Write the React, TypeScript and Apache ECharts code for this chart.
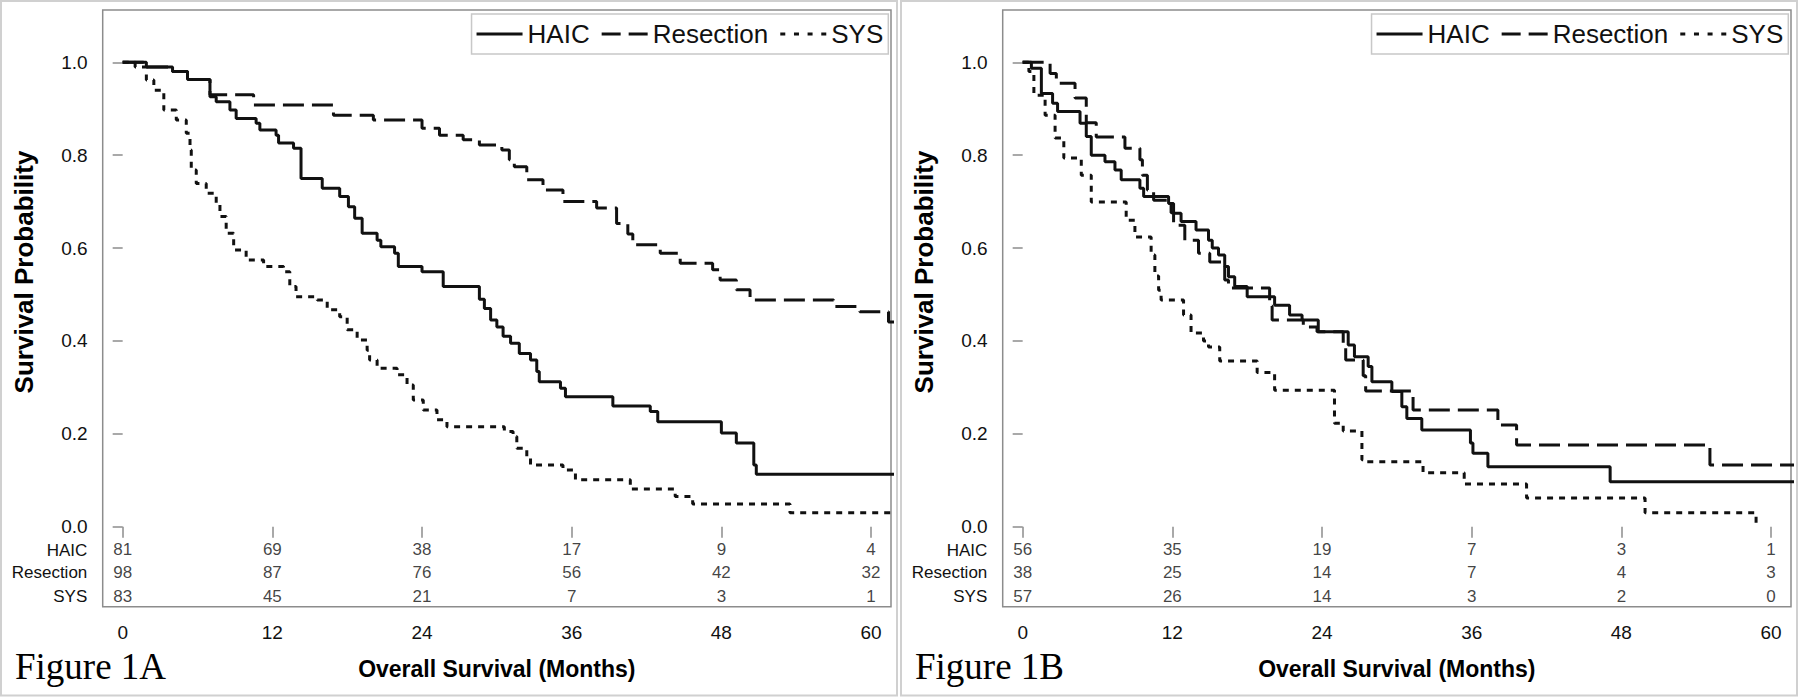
import React, { useEffect, useRef } from "react";
import * as echarts from "echarts";

// ---------- data (months, survival probability) ----------
const haicA: number[][] = [
  [0, 1.0], [1.9, 0.99], [4.0, 0.98], [5.2, 0.963], [7.0, 0.926], [7.5, 0.915], [8.6, 0.897],
  [9.1, 0.879], [10.7, 0.869], [11.0, 0.854], [12.3, 0.843], [12.5, 0.826], [13.7, 0.815],
  [14.3, 0.75], [16.0, 0.729], [17.4, 0.711], [18.1, 0.689], [18.6, 0.664], [19.2, 0.632],
  [20.4, 0.617], [20.7, 0.603], [21.8, 0.589], [22.1, 0.56], [24.0, 0.549], [25.7, 0.517],
  [28.6, 0.49], [29.0, 0.47], [29.5, 0.445], [30.0, 0.43], [30.5, 0.41], [31.1, 0.395],
  [31.8, 0.373], [32.7, 0.359], [33.2, 0.334], [33.4, 0.312], [35.1, 0.298], [35.5, 0.28],
  [39.3, 0.26], [42.3, 0.248], [42.9, 0.226], [48.0, 0.202], [49.2, 0.18], [50.6, 0.133],
  [50.8, 0.113], [62, 0.113],
];
const resectionA: number[][] = [
  [0, 1.0], [2.0, 0.99], [4.0, 0.98], [5.2, 0.963], [7.0, 0.93], [10.5, 0.908], [16.9, 0.886],
  [20.1, 0.876], [24.0, 0.858], [25.4, 0.843], [27.3, 0.833], [28.6, 0.822], [30.4, 0.811],
  [31.0, 0.79], [31.4, 0.775], [32.4, 0.747], [33.7, 0.725], [35.3, 0.7], [38.0, 0.686],
  [39.6, 0.653], [40.5, 0.63], [40.9, 0.607], [43.1, 0.589], [44.7, 0.567], [47.3, 0.553],
  [47.9, 0.531], [49.2, 0.51], [50.3, 0.488], [57.0, 0.474], [59.1, 0.463], [61.4, 0.441],
  [62, 0.441],
];
const sysA: number[][] = [
  [0, 1.0], [1.0, 0.99], [1.9, 0.962], [2.5, 0.94], [3.3, 0.897], [4.3, 0.876], [5.1, 0.847],
  [5.4, 0.811], [5.5, 0.768], [5.9, 0.739], [6.7, 0.718], [7.5, 0.696], [7.8, 0.668],
  [8.3, 0.632], [8.9, 0.596], [9.9, 0.574], [11.3, 0.56], [12.9, 0.549], [13.4, 0.517],
  [13.9, 0.495], [15.6, 0.488], [16.4, 0.467], [17.4, 0.452], [18.0, 0.424], [18.8, 0.402],
  [19.6, 0.38], [19.8, 0.359], [20.4, 0.341], [22.0, 0.327], [22.8, 0.305], [23.3, 0.273],
  [24.1, 0.251], [25.2, 0.23], [26.0, 0.215], [30.6, 0.205], [31.3, 0.194], [31.6, 0.169],
  [32.4, 0.151], [32.7, 0.133], [35.3, 0.122], [36.3, 0.101], [40.7, 0.081], [44.3, 0.065],
  [45.7, 0.049], [53.5, 0.03], [62, 0.03],
];
const haicB: number[][] = [
  [0, 1.0], [0.7, 0.987], [1.5, 0.933], [2.4, 0.912], [2.8, 0.894], [4.6, 0.869], [5.1, 0.84],
  [5.5, 0.8], [6.6, 0.786], [7.4, 0.768], [7.9, 0.747], [9.4, 0.729], [9.7, 0.711],
  [11.7, 0.696], [12.1, 0.675], [12.7, 0.657], [13.9, 0.639], [14.9, 0.617], [15.2, 0.6],
  [15.7, 0.585], [16.2, 0.56], [16.5, 0.538], [17.0, 0.517], [18.0, 0.495], [20.2, 0.477],
  [21.4, 0.456], [22.4, 0.445], [23.7, 0.42], [26.1, 0.391], [26.6, 0.366], [27.7, 0.345],
  [28.0, 0.312], [29.6, 0.291], [30.4, 0.258], [30.8, 0.233], [32.0, 0.208], [35.9, 0.18],
  [36.1, 0.158], [37.3, 0.129], [47.1, 0.097], [62, 0.097],
];
const resectionB: number[][] = [
  [0, 1.0], [2.2, 0.976], [2.7, 0.955], [4.2, 0.923], [5.1, 0.87], [5.9, 0.839], [8.2, 0.815],
  [9.4, 0.79], [9.6, 0.757], [10.0, 0.725], [10.5, 0.703], [11.9, 0.676], [12.1, 0.649],
  [13.0, 0.617], [14.1, 0.589], [15.0, 0.57], [16.2, 0.531], [16.5, 0.514], [19.8, 0.475],
  [20.0, 0.445], [22.5, 0.43], [23.6, 0.42], [25.7, 0.385], [25.9, 0.359], [27.3, 0.325],
  [27.5, 0.292], [31.3, 0.251], [38.1, 0.219], [39.6, 0.176], [55.1, 0.133], [62, 0.133],
];
const sysB: number[][] = [
  [0, 1.0], [0.5, 0.98], [0.9, 0.929], [1.8, 0.886], [2.6, 0.837], [3.3, 0.794], [4.7, 0.757],
  [5.5, 0.699], [8.3, 0.66], [9.0, 0.624], [10.3, 0.585], [10.6, 0.54], [10.9, 0.509],
  [11.1, 0.488], [12.9, 0.456], [13.5, 0.417], [14.5, 0.4], [14.9, 0.387], [15.8, 0.357],
  [18.8, 0.332], [20.2, 0.294], [25.0, 0.223], [25.7, 0.206], [27.2, 0.144], [27.6, 0.14],
  [32.1, 0.116], [35.4, 0.092], [40.4, 0.062], [49.9, 0.03], [58.8, 0.0],
];

const xTicks = [0, 12, 24, 36, 48, 60];
const yTicks = [0, 0.2, 0.4, 0.6, 0.8, 1.0];
const groups = ["HAIC", "Resection", "SYS"];

const riskHaicA = [81, 69, 38, 17, 9, 4];
const riskResectionA = [98, 87, 76, 56, 42, 32];
const riskSysA = [83, 45, 21, 7, 3, 1];
const riskHaicB = [56, 35, 19, 7, 3, 1];
const riskResectionB = [38, 25, 14, 7, 4, 3];
const riskSysB = [57, 26, 14, 3, 2, 0];

const panelTitles = ["Figure 1A", "Figure 1B"];

// ---------- styling ----------
const FONT = "'Liberation Sans', Arial, sans-serif";
const FRAME = "#8c8c8c";
const INK = "#111";
const lineTypes: any[] = ["solid", [21, 8], [6, 6]];
const legendIcons = [
  "path://M0 0H48V3H0Z",
  "path://M0 0H19V3H0Z M27 0H46V3H27Z",
  "path://M0 0H5V3H0Z M13.7 0H18.7V3H13.7Z M27.3 0H32.3V3H27.3Z M41 0H46V3H41Z",
];
const ROW_Y = [-0.0502, -0.0991, -0.1494];

export default function App() {
  const ref = useRef<HTMLDivElement>(null);

  useEffect(() => {
    document.body.style.margin = "0";
    const chart = echarts.init(ref.current!, null, { renderer: "svg" });

    const curves = [
      [haicA, resectionA, sysA],
      [haicB, resectionB, sysB],
    ];
    const risks = [
      [riskHaicA, riskResectionA, riskSysA],
      [riskHaicB, riskResectionB, riskSysB],
    ];
    const offsets = [0, 900];

    const grids: any[] = [];
    const xAxes: any[] = [];
    const yAxes: any[] = [];
    const series: any[] = [];
    const legends: any[] = [];
    const graphics: any[] = [];

    offsets.forEach((ox, p) => {
      grids.push({
        left: 102.7 + ox,
        top: 10,
        width: 788.3,
        height: 596.7,
        show: true,
        borderColor: FRAME,
        borderWidth: 1.5,
        backgroundColor: "transparent",
      });
      xAxes.push({
        gridIndex: p,
        type: "value",
        min: -1.6,
        max: 61.6,
        axisLine: { show: false },
        splitLine: { show: false },
        axisTick: { show: true, length: 11, customValues: xTicks, lineStyle: { color: FRAME, width: 1.5 } },
        axisLabel: { customValues: xTicks, fontSize: 19, color: INK, margin: 16, fontFamily: FONT },
      });
      yAxes.push({
        gridIndex: p,
        type: "value",
        min: -0.1723,
        max: 1.1126,
        axisLine: { show: false },
        splitLine: { show: false },
        axisTick: { show: true, length: 10, customValues: yTicks, lineStyle: { color: FRAME, width: 1.5 } },
        axisLabel: {
          customValues: yTicks,
          fontSize: 19,
          color: INK,
          margin: 15,
          fontFamily: FONT,
          formatter: (v: number) => v.toFixed(1),
        },
      });
      groups.forEach((g, k) => {
        series.push({
          name: g,
          type: "line",
          xAxisIndex: p,
          yAxisIndex: p,
          step: "end",
          symbol: "none",
          silent: true,
          clip: true,
          data: curves[p][k],
          lineStyle: { color: "#111", width: 3, type: lineTypes[k], cap: "butt" },
          itemStyle: { color: "#111" },
          emphasis: { disabled: true },
        });
        series.push({
          name: "risk-" + p + "-" + g,
          type: "scatter",
          xAxisIndex: p,
          yAxisIndex: p,
          clip: false,
          silent: true,
          symbolSize: 1,
          itemStyle: { color: "rgba(0,0,0,0)" },
          data: risks[p][k].map((n, i) => [xTicks[i], ROW_Y[k], n]),
          label: {
            show: true,
            position: "inside",
            formatter: (q: any) => String(q.value[2]),
            fontSize: 17,
            color: INK,
            fontFamily: FONT,
          },
          emphasis: { disabled: true },
        });
      });
      legends.push({
        data: groups.map((g, k) => ({ name: g, icon: legendIcons[k] })),
        right: 911.7 - ox,
        top: 14,
        orient: "horizontal",
        itemWidth: 46,
        itemHeight: 3,
        itemGap: 12,
        padding: [6, 5, 6, 5],
        borderColor: "#c8c8c8",
        borderWidth: 1.5,
        backgroundColor: "#fff",
        selectedMode: false,
        itemStyle: { color: "#111" },
        textStyle: { fontSize: 26, fontFamily: FONT, color: INK, lineHeight: 28 },
      });

      // panel border
      graphics.push({
        type: "rect",
        shape: { x: 1 + ox, y: 1, width: 896, height: 694.5 },
        style: { fill: "none", stroke: "#d0d0d0", lineWidth: 2 },
        silent: true,
      });
      // at-risk row labels
      groups.forEach((g, k) => {
        graphics.push({
          type: "text",
          x: 87.3 + ox,
          y: [550, 572.7, 596][k],
          style: {
            text: g,
            align: "right",
            verticalAlign: "middle",
            fontSize: 17,
            fontFamily: FONT,
            fill: INK,
          },
          silent: true,
        });
      });
      // y title
      graphics.push({
        type: "text",
        x: 24 + ox,
        y: 272,
        rotation: Math.PI / 2,
        style: {
          text: "Survival Probability",
          align: "center",
          verticalAlign: "middle",
          fontSize: 26,
          fontWeight: "bold",
          fontFamily: FONT,
          fill: "#000",
        },
        silent: true,
      });
      // x title
      graphics.push({
        type: "text",
        x: 496.8 + ox,
        y: 669,
        style: {
          text: "Overall Survival (Months)",
          align: "center",
          verticalAlign: "middle",
          fontSize: 23,
          fontWeight: "bold",
          fontFamily: FONT,
          fill: "#000",
        },
        silent: true,
      });
      // figure label
      graphics.push({
        type: "text",
        x: 15 + ox,
        y: 666,
        style: {
          text: panelTitles[p],
          align: "left",
          verticalAlign: "middle",
          fontSize: 37,
          fontFamily: "'Liberation Serif', 'Times New Roman', serif",
          fill: "#000",
        },
        silent: true,
      });
    });

    chart.setOption({
      animation: false,
      backgroundColor: "#fff",
      textStyle: { fontFamily: FONT },
      tooltip: { show: false },
      grid: grids,
      xAxis: xAxes,
      yAxis: yAxes,
      legend: legends,
      series,
      graphic: graphics,
    });

    return () => chart.dispose();
  }, []);

  return (
    <div
      ref={ref}
      style={{ position: "absolute", left: 0, top: 0, width: 1800, height: 697, background: "#fff" }}
    />
  );
}
